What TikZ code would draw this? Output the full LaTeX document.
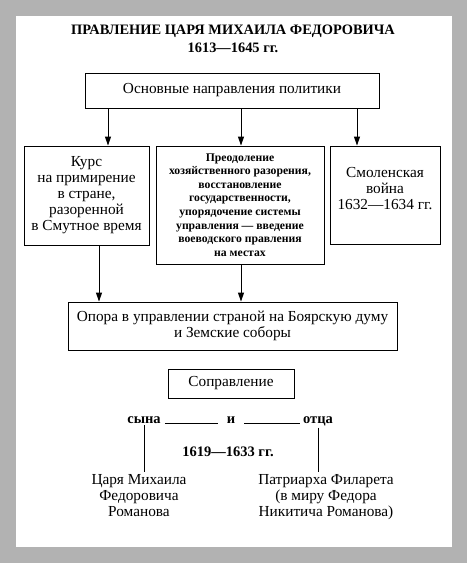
\documentclass[tikz,border=0pt]{standalone}
\usepackage{fontspec}
\setmainfont{Liberation Serif}
\usetikzlibrary{arrows.meta}
\definecolor{bg}{RGB}{178,178,178}
\begin{document}
\begin{tikzpicture}[x=1pt,y=-1pt,
  box/.style={draw,line width=0.9pt,align=center,inner sep=0pt},
  arr/.style={-{Triangle[length=9pt,width=6pt]},line width=0.9pt},
  ln/.style={line width=0.9pt},
  big/.style={font=\fontsize{15.3}{16}\selectfont},
  bigb/.style={font=\bfseries\fontsize{14.5}{16}\selectfont},
  txt/.style={align=center,inner sep=0pt}]
\useasboundingbox (0,0) rectangle (467,563);
\fill[bg] (0,0) rectangle (467,563);
\fill[white] (16,16) rectangle (452,547);
% title
\node[txt,font=\bfseries\fontsize{14.4}{18}\selectfont] (title) at (233,38.5) {ПРАВЛЕНИЕ ЦАРЯ МИХАИЛА ФЕДОРОВИЧА\\1613—1645 гг.};
% boxes
\node[box,big,minimum width=294pt,minimum height=35pt] (top) at (232,90.5) {Основные направления политики};
\node[box,big,minimum width=125pt,minimum height=99pt] (left) at (86.5,195.5) {Курс\\на примирение\\в стране,\\разоренной\\в Смутное время};
\node[box,font=\bfseries\fontsize{11.7}{13.6}\selectfont,minimum width=168pt,minimum height=118pt] (mid) at (240,205) {Преодоление\\хозяйственного разорения,\\восстановление\\государственности,\\упорядочение системы\\управления — введение\\воеводского правления\\на местах};
\node[box,minimum width=110pt,minimum height=98pt] (right) at (385,195) {};
\node[txt,big] (righttext) at (385,189) {Смоленская\\война\\1632—1634 гг.};
\node[box,big,minimum width=329pt,minimum height=48pt] (bottom) at (232.5,326) {Опора в управлении страной на Боярскую думу\\и Земские соборы};
\node[box,big,minimum width=126pt,minimum height=29pt] (sopr) at (231,383.5) {Соправление};
% arrows
\coordinate (xa) at (108,0);
\coordinate (xb) at (241,0);
\coordinate (xc) at (357,0);
\coordinate (xd) at (99,0);
\draw[arr] (top.south -| xa) -- (left.north -| xa);
\draw[arr] (top.south -| xb) -- (mid.north -| xb);
\draw[arr] (top.south -| xc) -- (right.north -| xc);
\draw[arr] (left.south -| xd) -- (bottom.north -| xd);
\draw[arr] (mid.south -| xb) -- (bottom.north -| xb);
% co-rule
\node[txt,bigb,anchor=base] (syna) at (144,423) {сына};
\node[txt,bigb,anchor=base] (iand) at (231,423) {и};
\node[txt,bigb,anchor=base] (otca) at (318,423) {отца};
\draw[ln] ([xshift=4pt]syna.base east) -- ([xshift=-9pt]iand.base west);
\draw[ln] ([xshift=9pt]iand.base east) -- ([xshift=-3pt]otca.base west);
\node[txt,bigb] (years) at (228,452) {1619—1633 гг.};
\node[txt,big,anchor=north] (tsar) at (139,474) {Царя Михаила\\Федоровича\\Романова};
\node[txt,big,anchor=north] (patr) at (326,474) {Патриарха Филарета\\(в миру Федора\\Никитича Романова)};
\draw[ln] ([yshift=-2pt]syna.south) -- ([yshift=2pt]syna.south |- tsar.north);
\draw[ln] ([yshift=-2pt]otca.south) -- ([yshift=2pt]otca.south |- patr.north);
\end{tikzpicture}
\end{document}
